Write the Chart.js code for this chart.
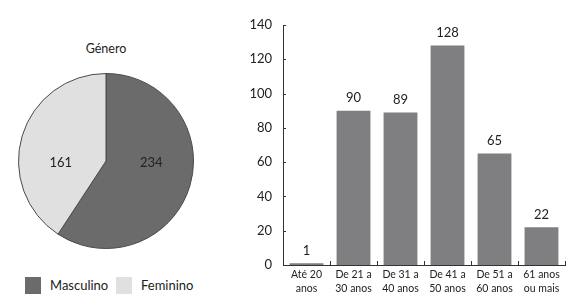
<!DOCTYPE html>
<html><head><meta charset="utf-8">
<script src="https://cdn.jsdelivr.net/npm/chart.js@4"></script>
<style>
body{margin:0;width:573px;height:305px;background:#fff;position:relative;overflow:hidden;font-family:Lato,"Open Sans",sans-serif;color:#222}
#pieWrap{position:absolute;left:18px;top:73px;width:176px;height:176px}
#barWrap{position:absolute;left:220px;top:0;width:353px;height:305px}
#title{position:absolute;left:56px;width:100px;top:41px;text-align:center;font-size:12.5px;color:#222}
#legend{position:absolute;left:25px;top:277px;height:17px}
.li{position:absolute;top:0;height:17px;white-space:nowrap}
.sw{position:absolute;left:0;top:0;width:16px;height:17px}
.lt{position:absolute;left:25px;top:0;line-height:17px;font-size:13px;color:#222}
</style></head>
<body>
<div id="title">Género</div>
<div id="pieWrap"><canvas id="pie"></canvas></div>
<div id="legend"></div>
<div id="barWrap"><canvas id="bar"></canvas></div>
<script>
// ---- data ----
const genderLabels = ["Masculino", "Feminino"];
const genderValues = [234, 161];
const genderColors = ["#6b6b6b", "#e0e0e0"];

const ageLabels = [["Até 20","anos"],["De 21 a","30 anos"],["De 31 a","40 anos"],["De 41 a","50 anos"],["De 51 a","60 anos"],["61 anos","ou mais"]];
const ageValues = [1, 90, 89, 128, 65, 22];
const yTicks = [0, 20, 40, 60, 80, 100, 120, 140];

const FONT = 'Lato, "Open Sans", sans-serif';

// legend (HTML)
const legendOffsets = [0, 91];
const lg = document.getElementById('legend');
genderLabels.forEach((l,i)=>{
  const d=document.createElement('div'); d.className='li'; d.style.left=legendOffsets[i]+'px';
  d.innerHTML='<div class="sw" style="background:'+genderColors[i]+'"></div><div class="lt">'+l+'</div>';
  lg.appendChild(d);
});

// pie value labels
const pieLabelPlugin = {
  id:'pieLabels',
  afterDatasetsDraw(chart){
    const ctx=chart.ctx; const meta=chart.getDatasetMeta(0);
    ctx.save(); ctx.font='13px '+FONT; ctx.fillStyle='#222'; ctx.textAlign='center'; ctx.textBaseline='middle';
    meta.data.forEach((arc,i)=>{
      const p=arc.getProps(['x','y','startAngle','endAngle','outerRadius'],true);
      const mid=(p.startAngle+p.endAngle)/2;
      const x=p.x+Math.cos(mid)*p.outerRadius*0.54;
      ctx.fillText(String(chart.data.datasets[0].data[i]), x, p.y+2);
    });
    ctx.restore();
  }
};

new Chart(document.getElementById('pie'),{
  type:'pie',
  data:{labels:genderLabels,datasets:[{data:genderValues,backgroundColor:genderColors,borderColor:'#4a4a4a',borderWidth:1}]},
  options:{responsive:true,maintainAspectRatio:false,animation:false,
    layout:{padding:0},
    plugins:{legend:{display:false},tooltip:{enabled:false}}},
  plugins:[pieLabelPlugin]
});

// bar value labels + inside ticks
const barPlugin = {
  id:'barExtras',
  afterDatasetsDraw(chart){
    const ctx=chart.ctx; const meta=chart.getDatasetMeta(0);
    ctx.save(); ctx.font='13px '+FONT; ctx.fillStyle='#222'; ctx.textAlign='center'; ctx.textBaseline='bottom';
    meta.data.forEach((b,i)=>{ ctx.fillText(String(ageValues[i]), b.x, b.y-6); });
    // inside ticks
    const ys=chart.scales.y, xs=chart.scales.x;
    ctx.strokeStyle='#333'; ctx.lineWidth=1;
    ctx.beginPath();
    yTicks.forEach(v=>{ if(v===0) return; const py=Math.round(ys.getPixelForValue(v))+0.5; ctx.moveTo(ys.right,py); ctx.lineTo(ys.right+3,py); });
    for(let i=0;i<ageValues.length;i++){
      const px=Math.round(xs.getPixelForValue(i)+(xs.getPixelForValue(1)-xs.getPixelForValue(0))/2)+0.5;
      ctx.moveTo(px,xs.top); ctx.lineTo(px,xs.top-4);
    }
    ctx.stroke();
    ctx.restore();
  }
};

new Chart(document.getElementById('bar'),{
  type:'bar',
  data:{labels:ageLabels,datasets:[{data:ageValues,backgroundColor:'#7f7f82',borderWidth:0,barPercentage:0.72,categoryPercentage:1}]},
  options:{responsive:true,maintainAspectRatio:false,animation:false,
    layout:{padding:{top:25,right:8,left:0,bottom:0}},
    plugins:{legend:{display:false},tooltip:{enabled:false}},
    scales:{
      x:{grid:{display:false,drawTicks:false},border:{display:true,color:'#333',width:1},
        ticks:{color:'#222',font:{family:FONT,size:10.5,lineHeight:1.3},padding:3,maxRotation:0,autoSkip:false},
        afterFit(s){s.height=40;}},
      y:{min:0,max:140,afterBuildTicks(s){s.ticks=yTicks.map(v=>({value:v}));},
        grid:{display:false,drawTicks:false},border:{display:true,color:'#333',width:1},
        ticks:{color:'#222',font:{family:FONT,size:13},padding:11},
        afterFit(s){s.width=63;}}
    }
  },
  plugins:[barPlugin]
});
</script>
</body></html>
